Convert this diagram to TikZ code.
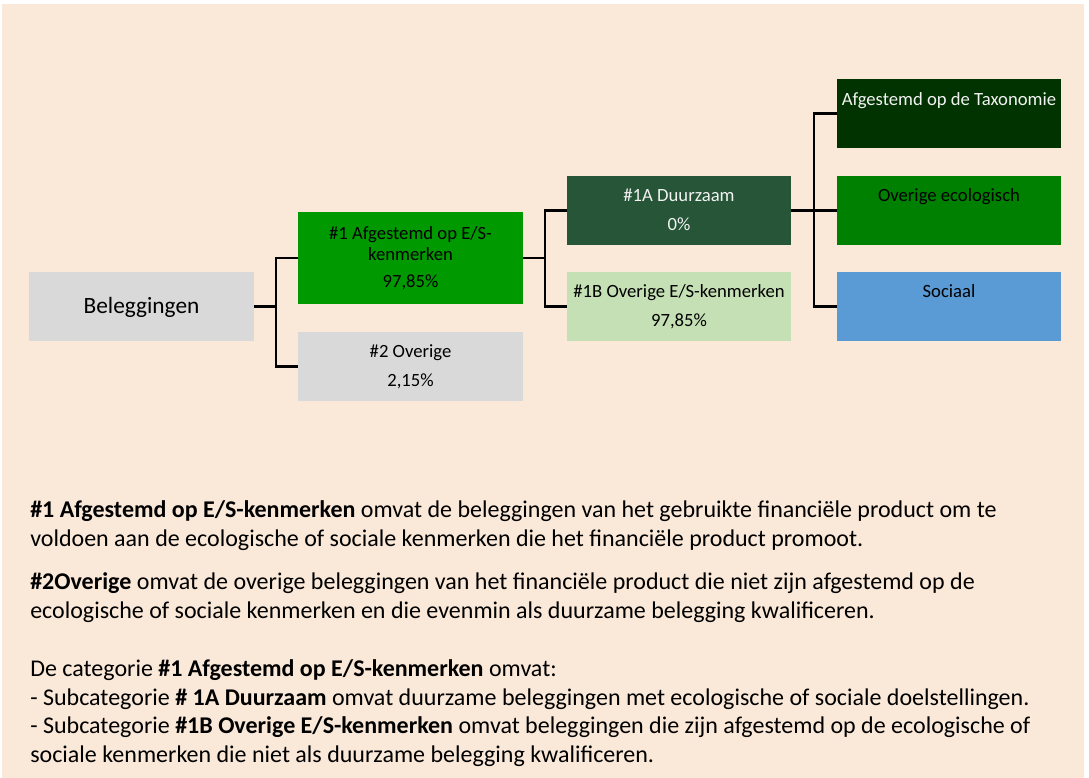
\documentclass[tikz,border=0pt]{standalone}
\usepackage{fontspec}
\setmainfont{Carlito}
\definecolor{peach}{HTML}{FAE8D8}
\definecolor{greyb}{HTML}{D9D9D9}
\definecolor{greenA}{HTML}{009900}
\definecolor{dgreen}{HTML}{265538}
\definecolor{lgreen}{HTML}{C5E0B4}
\definecolor{taxgreen}{HTML}{013300}
\definecolor{ecogreen}{HTML}{008000}
\definecolor{socblue}{HTML}{5B9BD5}
\definecolor{whitetext}{HTML}{F2F2F2}
\def\px{0.75pt}
\tikzset{
  box/.style={draw=none, rectangle, inner sep=0pt, minimum width=225*\px, minimum height=69*\px},
  boxtxt/.style={anchor=base, inner sep=0pt, font=\fontsize{14}{17}\selectfont},
  bodytxt/.style={anchor=base west, inner sep=0pt, font=\fontsize{18}{21.5}\selectfont},
  conn/.style={draw=black, line width=2pt}
}
\begin{document}
\begin{tikzpicture}[x=0.75pt,y=-0.75pt]
\useasboundingbox (0,0) rectangle (1089,778);
\fill[white] (0,0) rectangle (1089,778);
\fill[peach] (2,4) rectangle (1084,778);

% boxes
\node[box, fill=greyb] (bel) at (141.5,306.5) {};
\node[box, fill=greenA, minimum height=92*\px] (b1) at (410.5,258) {};
\node[box, fill=greyb] (b2) at (410.5,366.5) {};
\node[box, fill=dgreen, minimum width=224*\px] (b1a) at (679,210.5) {};
\node[box, fill=lgreen, minimum width=224*\px] (b1b) at (679,306.5) {};
\node[box, fill=taxgreen, minimum width=224*\px] (tax) at (949,113.5) {};
\node[box, fill=ecogreen, minimum width=224*\px] (eco) at (949,210.5) {};
\node[box, fill=socblue, minimum width=224*\px] (soc) at (949,306.5) {};

% box texts
\node[anchor=base, inner sep=0pt, font=\fontsize{17.5}{21}\selectfont] (belt) at (141.5,313) {Beleggingen};
\node[boxtxt] (b1t1) at (410.5,239) {\#1 Afgestemd op E/S-};
\node[boxtxt] (b1t2) at (410.5,260) {kenmerken};
\node[boxtxt] (b1t3) at (410.5,287) {97,85\%};
\node[boxtxt] (b2t1) at (410.5,357) {\#2 Overige};
\node[boxtxt] (b2t2) at (410.5,386) {2,15\%};
\node[boxtxt, text=whitetext] (b1at1) at (679,201) {\#1A Duurzaam};
\node[boxtxt, text=whitetext] (b1at2) at (679,230) {0\%};
\node[boxtxt] (b1bt1) at (679,297) {\#1B Overige E/S-kenmerken};
\node[boxtxt] (b1bt2) at (679,326) {97,85\%};
\node[boxtxt, text=whitetext] (taxt) at (949,105) {Afgestemd op de Taxonomie};
\node[boxtxt] (ecot) at (949,201) {Overige ecologisch};
\node[boxtxt] (soct) at (949,297) {Sociaal};

% connectors
\coordinate (j1) at (276,306.5);
\coordinate (j2) at (545,258);
\coordinate (j3) at (814,210.5);
\draw[conn] (bel.east) -- (j1);
\draw[conn] (j1) |- (b1.west);
\draw[conn] (j1) |- (b2.west);
\draw[conn] (b1.east) -- (j2);
\draw[conn] (j2) |- (b1a.west);
\draw[conn] (j2) |- (b1b.west);
\draw[conn] (b1a.east) -- (j3);
\draw[conn] (j3) |- (tax.west);
\draw[conn] (j3) -- (eco.west);
\draw[conn] (j3) |- (soc.west);

% explanatory text
\node[bodytxt] (l1) at (30,517) {\textbf{\#1 Afgestemd op E/S-kenmerken} omvat de beleggingen van het gebruikte financiële product om te};
\node[bodytxt] (l2) at (30,546) {voldoen aan de ecologische of sociale kenmerken die het financiële product promoot.};
\node[bodytxt] (l3) at (30,589) {\textbf{\#2Overige} omvat de overige beleggingen van het financiële product die niet zijn afgestemd op de};
\node[bodytxt] (l4) at (30,618) {ecologische of sociale kenmerken en die evenmin als duurzame belegging kwalificeren.};
\node[bodytxt] (l5) at (30,676) {De categorie \textbf{\#1 Afgestemd op E/S-kenmerken} omvat:};
\node[bodytxt] (l6) at (30,705) {- Subcategorie \textbf{\# 1A Duurzaam} omvat duurzame beleggingen met ecologische of sociale doelstellingen.};
\node[bodytxt] (l7) at (30,733) {- Subcategorie \textbf{\#1B Overige E/S-kenmerken} omvat beleggingen die zijn afgestemd op de ecologische of};
\node[bodytxt] (l8) at (30,762) {sociale kenmerken die niet als duurzame belegging kwalificeren.};
\end{tikzpicture}
\end{document}
